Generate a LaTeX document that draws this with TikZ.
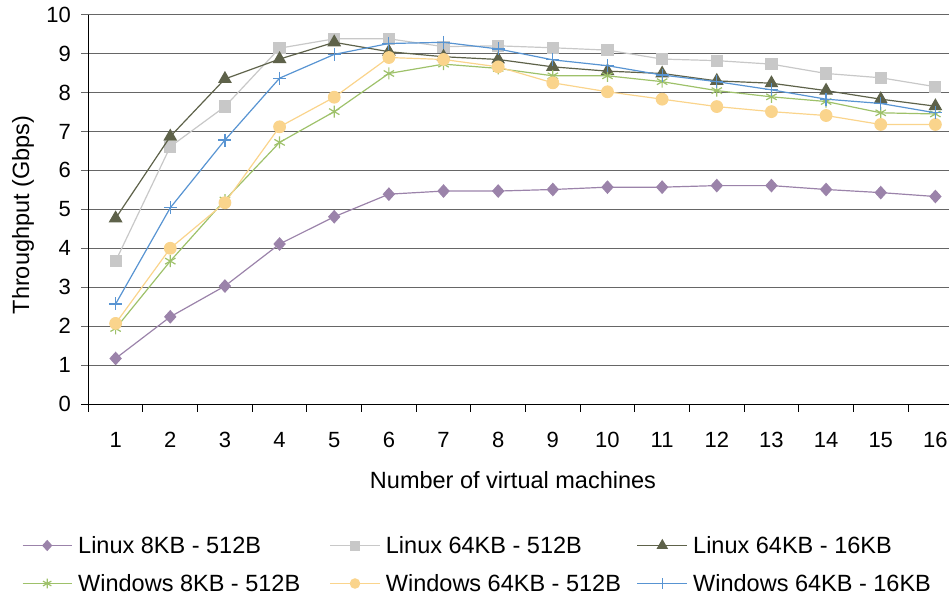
\documentclass[tikz,border=0pt]{standalone}
\usepackage{fontspec}
\setmainfont{Liberation Sans}
\usetikzlibrary{plotmarks}
\definecolor{cpur}{RGB}{155,131,170}
\definecolor{cgry}{RGB}{200,200,200}
\definecolor{colv}{RGB}{94,98,74}
\definecolor{cgrn}{RGB}{158,193,106}
\definecolor{cora}{RGB}{250,212,140}
\definecolor{cblu}{RGB}{88,148,210}
\begin{document}
\begin{tikzpicture}[x=1pt,y=-1pt,
  gridline/.style={draw=black!60,line width=1.1pt},
  axisline/.style={draw=black,line width=1pt},
  ticklab/.style={inner sep=0pt,font=\fontsize{22}{26}\selectfont},
  title/.style={inner sep=0pt,font=\fontsize{23.5}{28}\selectfont},
  legtext/.style={inner sep=0pt,anchor=base west,font=\fontsize{23.5}{28}\selectfont},
  legmark/.style={mark indices={2},every mark/.append style={scale=0.8}},
  sA/.style={color=cpur,line width=1.2pt,mark=diamond*,mark size=6pt,mark options={solid,xscale=1.2,fill=cpur,draw=cpur}},
  sB/.style={color=cgry,line width=1.2pt,mark=square*,mark size=5.5pt,mark options={solid,fill=cgry,draw=cgry}},
  sC/.style={color=colv,line width=1.2pt,mark=triangle*,mark size=6.8pt,mark options={solid,fill=colv,draw=colv}},
  sD/.style={color=cgrn,line width=1.2pt,mark=asterisk,mark size=6pt,mark options={solid,draw=cgrn}},
  sE/.style={color=cora,line width=1.2pt,mark=*,mark size=5.8pt,mark options={solid,fill=cora,draw=cora}},
  sF/.style={color=cblu,line width=1.2pt,mark=+,mark size=6.5pt,mark options={solid,draw=cblu}}]
\useasboundingbox (0,0) rectangle (949,596);
% grid lines and y ticks
\foreach \v in {1,...,10}{
  \draw[gridline] (81,{404-\v*38.93}) -- (949,{404-\v*38.93});
}
% axes
\draw[axisline] (81,404) -- (949,404);
\draw[axisline] (88.3,14.7) -- (88.3,411.5);
\foreach \k in {1,...,16}{
  \draw[axisline] ({88.3+\k*54.65},404) -- ({88.3+\k*54.65},411.5);
}
% tick labels
\foreach \v in {0,...,10}{
  \node[ticklab,anchor=east] (yl\v) at (71,{404-\v*38.93}) {\v};
}
\foreach \i in {1,...,16}{
  \node[ticklab] (xl\i) at ({88.3+(\i-0.5)*54.65},440) {\i};
}
% axis titles
\node[title,anchor=base] (xtitle) at (513,488.5) {Number of virtual machines};
\node[title,anchor=base,rotate=90] (ytitle) at (29,215) {Throughput (Gbps)};
% data
\begin{scope}[shift={(88.3pt,-404pt)},x=54.65pt,y=38.93pt]
\draw[sA] plot coordinates {(0.5,1.17) (1.5,2.24) (2.5,3.03) (3.5,4.11) (4.5,4.81) (5.5,5.39) (6.5,5.47) (7.5,5.47) (8.5,5.51) (9.5,5.57) (10.5,5.57) (11.5,5.61) (12.5,5.61) (13.5,5.51) (14.5,5.43) (15.5,5.33)};
\draw[sB] plot coordinates {(0.5,3.67) (1.5,6.61) (2.5,7.64) (3.5,9.14) (4.5,9.38) (5.5,9.38) (6.5,9.18) (7.5,9.2) (8.5,9.15) (9.5,9.09) (10.5,8.86) (11.5,8.82) (12.5,8.73) (13.5,8.49) (14.5,8.38) (15.5,8.15)};
\draw[sC] plot coordinates {(0.5,4.77) (1.5,6.87) (2.5,8.35) (3.5,8.86) (4.5,9.29) (5.5,9.05) (6.5,8.92) (7.5,8.85) (8.5,8.66) (9.5,8.55) (10.5,8.49) (11.5,8.3) (12.5,8.24) (13.5,8.05) (14.5,7.83) (15.5,7.65)};
\draw[sD] plot coordinates {(0.5,1.94) (1.5,3.67) (2.5,5.24) (3.5,6.72) (4.5,7.51) (5.5,8.49) (6.5,8.73) (7.5,8.62) (8.5,8.43) (9.5,8.43) (10.5,8.28) (11.5,8.05) (12.5,7.89) (13.5,7.77) (14.5,7.48) (15.5,7.45)};
\draw[sE] plot coordinates {(0.5,2.07) (1.5,4.0) (2.5,5.17) (3.5,7.12) (4.5,7.88) (5.5,8.9) (6.5,8.85) (7.5,8.66) (8.5,8.25) (9.5,8.02) (10.5,7.83) (11.5,7.64) (12.5,7.51) (13.5,7.41) (14.5,7.18) (15.5,7.18)};
\draw[sF] plot coordinates {(0.5,2.57) (1.5,5.04) (2.5,6.78) (3.5,8.37) (4.5,8.98) (5.5,9.26) (6.5,9.29) (7.5,9.12) (8.5,8.84) (9.5,8.69) (10.5,8.45) (11.5,8.28) (12.5,8.07) (13.5,7.83) (14.5,7.72) (15.5,7.48)};
\end{scope}
% legend
\draw[sA,legmark] plot coordinates {(22.7,545.5) (47.2,545.5) (71.7,545.5)};
\draw[sB,legmark] plot coordinates {(330,545.5) (355,545.5) (380,545.5)};
\draw[sC,legmark] plot coordinates {(637.3,545.5) (662.3,545.5) (687.3,545.5)};
\draw[sD,legmark] plot coordinates {(22.7,583.5) (47.2,583.5) (71.7,583.5)};
\draw[sE,legmark] plot coordinates {(330,583.5) (355,583.5) (380,583.5)};
\draw[sF,legmark] plot coordinates {(637.3,583.5) (662.3,583.5) (687.3,583.5)};
\node[legtext] (l1) at (78,553) {Linux 8KB - 512B};
\node[legtext] (l2) at (385.7,553) {Linux 64KB - 512B};
\node[legtext] (l3) at (693,553) {Linux 64KB - 16KB};
\node[legtext] (l4) at (78,591) {Windows 8KB - 512B};
\node[legtext] (l5) at (385.7,591) {Windows 64KB - 512B};
\node[legtext] (l6) at (693,591) {Windows 64KB - 16KB};
\end{tikzpicture}
\end{document}
